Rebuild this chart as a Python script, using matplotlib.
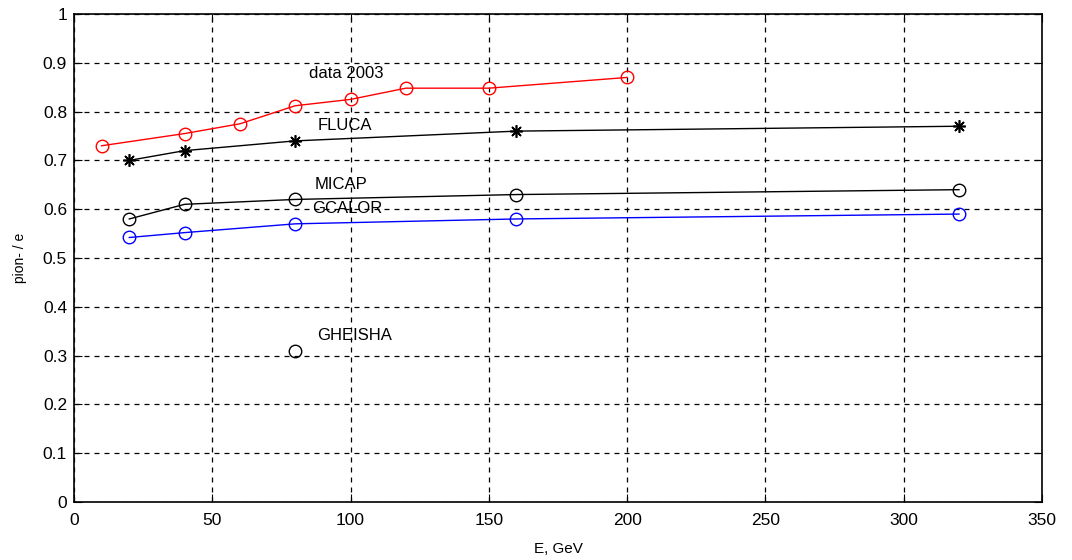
import matplotlib
matplotlib.use("Agg")
import matplotlib.pyplot as plt

plt.rcParams['font.family'] = ['Liberation Sans', 'DejaVu Sans']

# data 2003 (red)
data_e = [10, 40, 60, 80, 100, 120, 150, 200]
data_r = [0.73, 0.755, 0.775, 0.812, 0.825, 0.848, 0.848, 0.87]

# simulations
sim_e = [20, 40, 80, 160, 320]
fluca_r = [0.70, 0.72, 0.74, 0.76, 0.77]
micap_r = [0.58, 0.61, 0.62, 0.63, 0.64]
gcalor_r = [0.542, 0.552, 0.57, 0.58, 0.59]

gheisha_e = [80]
gheisha_r = [0.31]

labels = ["data 2003", "FLUCA", "MICAP", "GCALOR", "GHEISHA"]
label_pos = [(85, 0.879), (88, 0.772), (87, 0.650), (86, 0.602), (88, 0.342)]

fig = plt.figure(figsize=(10.72, 5.6), dpi=100)
ax = fig.add_axes([0.069, 0.1036, 0.903, 0.8714])

mk = dict(markersize=9, markerfacecolor='none', linewidth=1)
ax.plot(data_e, data_r, 'o-', color='red', markeredgecolor='red', **mk)
ax.plot(sim_e, fluca_r, '-', marker=(8, 2, 0), color='black', markersize=9,
        markeredgewidth=1.2, linewidth=1)
ax.plot(sim_e, micap_r, 'o-', color='black', markeredgecolor='black', **mk)
ax.plot(sim_e, gcalor_r, 'o-', color='blue', markeredgecolor='blue', **mk)
ax.plot(gheisha_e, gheisha_r, 'o', color='black', markeredgecolor='black', **mk)

for txt, (x, y) in zip(labels, label_pos):
    ax.text(x, y, txt, fontsize=12, va='center', ha='left')

ax.set_xlim(0, 350)
ax.set_ylim(0, 1)
ax.set_xticks(range(0, 351, 50))
ax.set_yticks([i / 10 for i in range(11)])
ax.set_yticklabels(['0', '0.1', '0.2', '0.3', '0.4', '0.5', '0.6', '0.7', '0.8', '0.9', '1'])
ax.grid(True, linestyle=(0, (4, 4)), color='black', linewidth=0.9)
ax.tick_params(direction='in', length=6, labelsize=12.5, top=True, right=True)
ax.tick_params(axis='x', pad=8)
ax.tick_params(axis='y', pad=5)
for s in ax.spines.values():
    s.set_linewidth(1.2)

ax.set_xlabel("E, GeV", fontsize=11, labelpad=10)
ax.set_ylabel("pion- / e", fontsize=10, labelpad=11)

fig.savefig("out.png", dpi=100)
